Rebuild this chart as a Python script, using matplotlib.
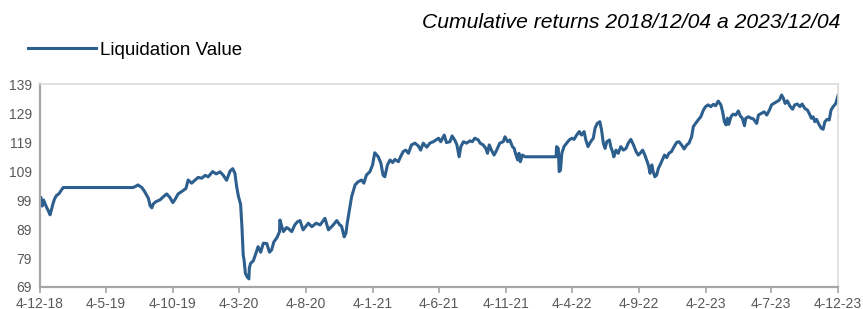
import matplotlib
matplotlib.use("Agg")
import matplotlib.pyplot as plt
import pandas as pd

plt.rcParams['font.family'] = ['Liberation Sans', 'DejaVu Sans']

start_date = "2018-12-04"
end_date = "2023-12-04"
series_name = "Liquidation Value"
title = "Cumulative returns 2018/12/04 a 2023/12/04"

# days since start date
days = [0, 2, 5, 8, 11, 15, 19, 23, 27, 30, 34, 38, 43, 48, 53, 213, 220, 224, 233, 239,
        244, 248, 252, 256, 259, 265, 275, 282, 290, 297, 304, 309, 316, 327, 334, 339,
        347, 355, 362, 370, 378, 385, 395, 403, 412, 419, 427, 435, 441, 446, 450, 454,
        459, 462, 465, 467, 470, 474, 478, 479, 482, 488, 494, 499, 505, 511, 519, 525,
        530, 535, 542, 548, 549, 553, 557, 564, 568, 576, 583, 589, 595, 602, 614, 622,
        632, 641, 652, 660, 671, 679, 686, 690, 696, 700, 703, 708, 713, 721, 728, 736,
        741, 747, 755, 761, 766, 774, 780, 785, 789, 795, 801, 807, 812, 820, 825, 831,
        837, 843, 850, 858, 866, 871, 877, 885, 892, 900, 908, 912, 917, 925, 930, 938,
        943, 950, 954, 959, 963, 969, 976, 984, 989, 995, 1003, 1007, 1014, 1020, 1024,
        1028, 1033, 1039, 1045, 1052, 1060, 1064, 1070, 1075, 1081, 1085, 1088, 1093,
        1096, 1099, 1104, 1110, 1181, 1182, 1186, 1188, 1191, 1194, 1199, 1205, 1211,
        1217, 1222, 1228, 1234, 1239, 1245, 1249, 1254, 1260, 1266, 1270, 1275, 1281,
        1285, 1289, 1293, 1297, 1303, 1306, 1310, 1313, 1318, 1323, 1329, 1335, 1341,
        1346, 1352, 1358, 1364, 1369, 1373, 1379, 1384, 1390, 1393, 1396, 1400, 1403,
        1407, 1411, 1415, 1419, 1424, 1429, 1434, 1439, 1445, 1451, 1457, 1462, 1468,
        1474, 1480, 1485, 1491, 1495, 1500, 1506, 1512, 1518, 1523, 1529, 1535, 1541,
        1546, 1552, 1558, 1562, 1566, 1570, 1573, 1576, 1581, 1586, 1592, 1598, 1602,
        1607, 1612, 1615, 1621, 1627, 1632, 1640, 1644, 1651, 1657, 1663, 1669, 1674,
        1679, 1686, 1692, 1697, 1701, 1705, 1710, 1716, 1722, 1727, 1733, 1739, 1744,
        1750, 1756, 1760, 1765, 1769, 1773, 1777, 1783, 1788, 1792, 1796, 1801, 1806,
        1810, 1815, 1821, 1826]

values = [100.0, 99.9, 96.9, 99.0, 97.9, 96.5, 95.3, 93.9, 96.1, 97.9, 99.6, 100.6, 101.1,
          102.2, 103.3, 103.3, 103.8, 104.2, 103.3, 102.0, 100.7, 99.6, 97.0, 96.3, 97.6,
          98.4, 99.1, 100.1, 101.1, 99.9, 98.1, 99.2, 101.1, 102.2, 103.0, 105.9, 104.8,
          105.9, 106.8, 106.5, 107.5, 107.0, 108.8, 108.0, 108.7, 107.6, 105.8, 109.0,
          109.8, 108.2, 103.6, 100.3, 97.5, 90.0, 80.0, 78.3, 73.7, 72.5, 71.8, 75.5, 77.2,
          78.0, 80.6, 82.9, 81.0, 84.1, 84.0, 81.0, 81.8, 84.5, 86.0, 88.0, 92.1, 90.0,
          88.1, 89.5, 89.2, 88.1, 90.4, 91.5, 91.9, 88.7, 91.0, 89.8, 91.0, 90.4, 92.7,
          88.7, 90.4, 91.9, 90.4, 90.0, 86.3, 87.5, 91.0, 95.6, 100.1, 104.2, 105.3, 105.9,
          104.8, 107.6, 108.8, 111.1, 115.3, 113.9, 111.7, 107.6, 107.0, 111.1, 112.8,
          111.9, 113.0, 112.2, 113.9, 115.7, 116.2, 115.1, 118.0, 118.6, 117.6, 116.2,
          118.6, 117.2, 118.6, 119.1, 119.9, 120.3, 119.1, 121.4, 118.8, 119.1, 121.1,
          119.4, 118.0, 113.9, 117.4, 119.1, 118.6, 119.4, 119.1, 120.3, 119.7, 118.6,
          118.0, 116.8, 115.1, 118.0, 116.2, 114.5, 116.2, 118.6, 119.1, 120.8, 119.1,
          119.7, 117.4, 116.8, 115.1, 112.8, 115.1, 112.2, 114.5, 113.9, 113.9, 117.4,
          116.8, 108.8, 109.3, 115.1, 117.4, 118.6, 119.7, 120.3, 119.9, 121.4, 122.6,
          121.4, 122.6, 119.7, 117.4, 119.1, 120.3, 123.7, 125.4, 126.0, 123.1, 118.6,
          116.8, 119.1, 119.7, 117.4, 115.7, 113.9, 116.2, 115.1, 117.4, 116.2, 116.8,
          118.6, 119.9, 118.0, 115.7, 114.5, 115.1, 116.2, 114.5, 112.0, 110.5, 108.2,
          111.1, 108.8, 107.0, 107.6, 109.9, 111.1, 112.8, 114.5, 113.6, 115.1, 115.7,
          117.4, 118.9, 119.1, 118.0, 116.6, 118.0, 118.6, 120.8, 124.3, 125.4, 126.6,
          127.7, 130.0, 131.2, 131.8, 131.2, 132.0, 131.5, 133.1, 131.8, 129.4, 126.0,
          124.9, 127.2, 125.1, 127.7, 128.6, 128.3, 129.7, 128.1, 127.2, 124.6, 127.2,
          127.7, 127.2, 127.0, 125.4, 128.3, 128.9, 129.4, 128.3, 130.0, 131.8, 132.3,
          132.9, 133.5, 135.2, 134.1, 132.3, 133.2, 131.4, 130.3, 131.8, 132.1, 131.2,
          132.1, 130.6, 130.0, 128.9, 127.2, 127.7, 126.0, 126.8, 124.9, 123.7, 123.4,
          126.0, 126.8, 126.6, 130.0, 131.2, 132.3, 135.0]

tick_dates = ["2018-12-04", "2019-05-04", "2019-10-04", "2020-03-04", "2020-08-04",
              "2021-01-04", "2021-06-04", "2021-11-04", "2022-04-04", "2022-09-04",
              "2023-02-04", "2023-07-04", "2023-12-04"]
tick_labels = ["4-12-18", "4-5-19", "4-10-19", "4-3-20", "4-8-20", "4-1-21", "4-6-21",
               "4-11-21", "4-4-22", "4-9-22", "4-2-23", "4-7-23", "4-12-23"]
y_ticks = [69, 79, 89, 99, 109, 119, 129, 139]

dates = pd.Timestamp(start_date) + pd.to_timedelta(days, unit="D")

W, H = 863, 309
fig = plt.figure(figsize=(W / 100, H / 100), dpi=100)
ax = fig.add_axes([40 / W, (H - 287) / H, (838 - 40) / W, (287 - 84) / H])

line_color = "#2D5F8E"
ax.plot(dates, values, color=line_color, lw=2.2, label=series_name, solid_joinstyle="round")

ax.set_xlim(pd.Timestamp(start_date), pd.Timestamp(end_date))
ax.set_ylim(69, 139)
ax.set_yticks(y_ticks)
ax.set_xticks(pd.to_datetime(tick_dates))
ax.set_xticklabels(tick_labels)

for s in ["left", "bottom"]:
    ax.spines[s].set_color("#A6A6A6")
    ax.spines[s].set_linewidth(1.6)
for s in ["top", "right"]:
    ax.spines[s].set_color("#D9D9D9")
    ax.spines[s].set_linewidth(1.1)

ax.tick_params(axis="y", length=0, pad=6, labelsize=10, labelcolor="#595959")
ax.tick_params(axis="x", length=4, width=1.2, color="#A6A6A6", pad=3,
               labelsize=10, labelcolor="#595959")

fig.text(840 / W, 1 - 23 / H, title, ha="right", va="center", style="italic",
         fontsize=15.2, color="#000000")

leg = fig.legend(loc="center left", bbox_to_anchor=(28 / W, 1 - 50 / H), frameon=False,
                 fontsize=13.5, handlelength=3.6, handletextpad=0.25, borderpad=0,
                 borderaxespad=0)

fig.savefig("out.png", dpi=100)
